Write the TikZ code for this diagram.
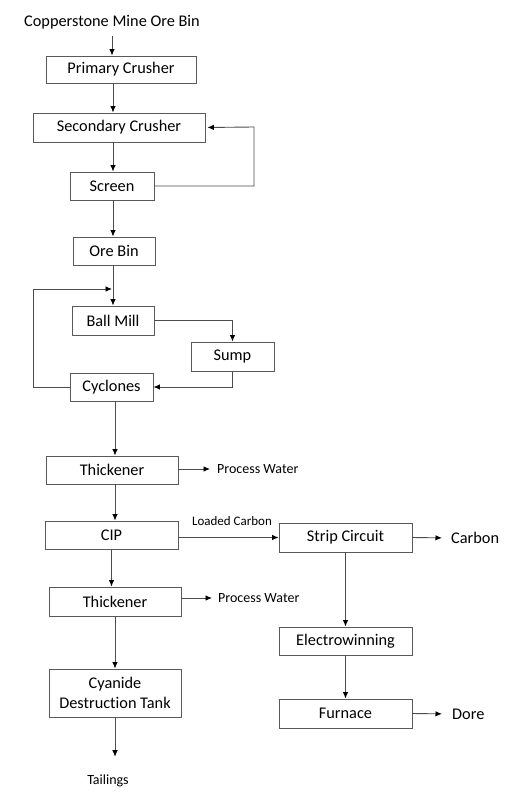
\documentclass[tikz,border=0pt]{standalone}
\usepackage{fontspec}
\setmainfont[Ligatures={NoCommon,NoRare}]{Carlito}
\usetikzlibrary{arrows.meta}
\begin{document}
\begin{tikzpicture}
[x=1pt, y=-1pt, font=\fontsize{16.3}{20}\selectfont,
 unit/.style={draw=black!65, line width=0.9pt, minimum height=28pt, minimum width=133pt, inner sep=0pt, align=center},
 note/.style={inner sep=0pt, font=\fontsize{14}{16}\selectfont},
 flow/.style={draw=black!70, line width=0.9pt, -{Latex[length=6.5pt, width=5.5pt, black]}}]
\useasboundingbox (0,0) rectangle (509,794);
\coordinate (spine) at (113,0);
\coordinate (trunk) at (115,0);
\coordinate (recycle) at (254,127);
\coordinate (return) at (33,289);
\node [inner sep=0pt] (mine) at (112,22) {Copperstone Mine Ore Bin};
\node [unit, minimum width=150pt, minimum height=27pt] (primary) at (121,69.5) {Primary Crusher};
\node [unit, minimum width=172pt, minimum height=29pt] (secondary) at (119,127.5) {Secondary Crusher};
\node [unit, minimum width=84pt] (screen) at (112,186) {Screen};
\node [unit, minimum width=82pt] (orebin) at (114,251) {Ore Bin};
\node [unit, minimum width=82pt, minimum height=29pt] (ballmill) at (113,320.5) {Ball Mill};
\node [unit, minimum width=83pt, minimum height=29pt] (sump) at (232.5,356.5) {Sump};
\node [unit, minimum width=83pt] (cyclones) at (111.5,387) {Cyclones};
\node [unit, minimum width=132pt] (thickA) at (112,470) {Thickener};
\node [unit] (cip) at (111.5,535) {CIP};
\node [unit, minimum height=29pt] (strip) at (345.5,537.5) {Strip Circuit};
\node [unit, minimum width=132pt, minimum height=29pt] (thickB) at (115,601.5) {Thickener};
\node [unit] (electro) at (345.5,641) {Electrowinning};
\node [unit, minimum height=29pt] (furnace) at (345.5,713.5) {Furnace};
\node [unit, minimum width=132pt, minimum height=48pt] (cyanide) at (115,693) {Cyanide\\Destruction Tank};
\node [note, anchor=west] (waterA) at (217,469) {Process Water};
\node [note, anchor=west] (waterB) at (218,598) {Process Water};
\node [inner sep=0pt, anchor=west] (carbon) at (451,538) {Carbon};
\node [inner sep=0pt, anchor=west] (dore) at (452,714) {Dore};
\node [note] (tailings) at (108,781) {Tailings};
% crushing
\draw [flow, shorten <=7pt] (mine.south) -- (mine.south |- primary.north);
\draw [flow] (spine |- primary.south) -- (spine |- secondary.north);
\draw [flow] (spine |- secondary.south) -- (spine |- screen.north);
\draw [flow, shorten >=2pt] (screen.east) -| (recycle) -- (secondary.east);
\draw [flow] (spine |- screen.south) -- (spine |- orebin.north);
% grinding
\draw [flow] (spine |- orebin.south) -- (spine |- ballmill.north);
\draw [flow] (ballmill.east) -| (sump.north);
\draw [flow] (sump.south) |- (cyclones.east);
\draw [flow, shorten >=1pt] (cyclones.west) -| (return) -- (return -| spine);
\draw [flow] (trunk |- cyclones.south) -- (trunk |- thickA.north);
% leaching
\draw [flow, shorten >=7pt] (thickA.east |- waterA.west) -- (waterA.west);
\draw [flow] (trunk |- thickA.south) -- (trunk |- cip.north);
\draw [flow] (cip.east |- strip.west) -- (strip.west) node [midway, above=11pt, xshift=3.5pt, note, font=\fontsize{13}{15}\selectfont] {Loaded Carbon};
\draw [flow] (cip.south) -- (cip.south |- thickB.north);
\draw [flow, shorten >=6pt] (thickB.east |- waterB.west) -- (waterB.west);
\draw [flow] (thickB.south) -- (cyanide.north);
\draw [flow, shorten >=18pt] (cyanide.south) -- (cyanide.south |- tailings.north);
% gold recovery
\draw [flow, shorten >=9pt] (strip.east) -- (carbon.west);
\draw [flow] (strip.south) -- (electro.north);
\draw [flow] (electro.south) -- (furnace.north);
\draw [flow, shorten >=10pt] (furnace.east) -- (dore.west);
\end{tikzpicture}
\end{document}
